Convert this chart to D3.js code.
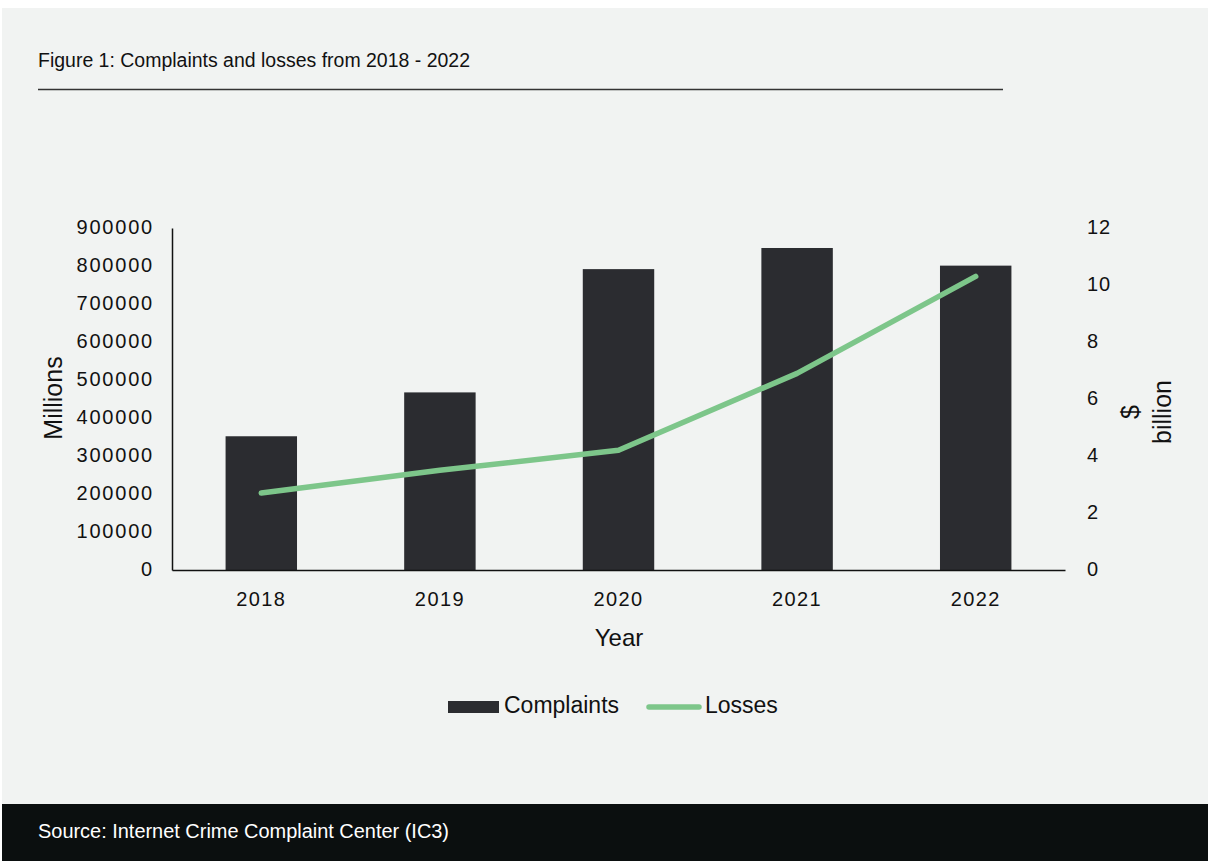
<!DOCTYPE html>
<html><head><meta charset="utf-8">
<script src="https://cdn.jsdelivr.net/npm/d3@7"></script>
<style>
html,body{margin:0;padding:0;background:#fff;}
svg{display:block;}
</style></head>
<body>
<svg id="c" width="1208" height="861"></svg>
<script>
const years = ["2018","2019","2020","2021","2022"];
const complaints = [351937, 467361, 791790, 847376, 800944];
const losses = [2.7, 3.5, 4.2, 6.9, 10.3];
const leftTicks = [0,100000,200000,300000,400000,500000,600000,700000,800000,900000];
const rightTicks = [0,2,4,6,8,10,12];
const title = "Figure 1: Complaints and losses from 2018 - 2022";
const source = "Source: Internet Crime Complaint Center (IC3)";

const svg = d3.select("#c");
const font = "'Liberation Sans', Arial, sans-serif";

// background panel
svg.append("rect").attr("x",2).attr("y",8).attr("width",1206).attr("height",853).attr("fill","#f1f3f2");
// footer
svg.append("rect").attr("x",2).attr("y",804).attr("width",1206).attr("height",57).attr("fill","#0b0f0f");
svg.append("text").attr("x",38).attr("y",838).attr("fill","#ffffff")
  .attr("font-family",font).attr("font-size",20)
  .attr("textLength",411).attr("lengthAdjust","spacingAndGlyphs").text(source);

// title and rule
svg.append("text").attr("x",38).attr("y",67).attr("fill","#111")
  .attr("font-family",font).attr("font-size",20)
  .attr("textLength",432).attr("lengthAdjust","spacingAndGlyphs").text(title);
svg.append("line").attr("x1",38).attr("x2",1003).attr("y1",89.5).attr("y2",89.5)
  .attr("stroke","#333").attr("stroke-width",1.5);

const x0 = 172, x1 = 1065, yTop = 228, yBot = 570;
const x = d3.scaleBand().domain(years).range([x0,x1]).paddingInner(0.6).paddingOuter(0.3);
const yL = d3.scaleLinear().domain([0,900000]).range([yBot,yTop]);
const yR = d3.scaleLinear().domain([0,12]).range([yBot,yTop]);

// bars
svg.append("g").selectAll("rect").data(years).join("rect")
  .attr("x",d=>x(d)).attr("width",x.bandwidth())
  .attr("y",(d,i)=>yL(complaints[i])).attr("height",(d,i)=>yBot-yL(complaints[i]))
  .attr("fill","#2b2c30");

// left axis
const gL = svg.append("g").attr("transform",`translate(${x0},0)`)
  .call(d3.axisLeft(yL).tickValues(leftTicks).tickSize(0).tickPadding(18).tickFormat(d=>String(d)));
gL.select(".domain").attr("stroke","#111").attr("stroke-width",1.5);
gL.selectAll("text").attr("font-family",font).attr("font-size",20).attr("letter-spacing",1.8).attr("fill","#111").attr("dy","0.25em");

// right axis
const gR = svg.append("g").attr("transform",`translate(${x1},0)`)
  .call(d3.axisRight(yR).tickValues(rightTicks).tickSize(0).tickPadding(22));
gR.select(".domain").remove();
gR.selectAll("text").attr("font-family",font).attr("font-size",20).attr("letter-spacing",0.8).attr("fill","#111").attr("dy","0.25em");

// bottom axis
const gB = svg.append("g").attr("transform",`translate(0,${yBot})`)
  .call(d3.axisBottom(x).tickSize(0).tickPadding(22));
gB.select(".domain").attr("stroke","#111").attr("stroke-width",1.5);
gB.selectAll("text").attr("font-family",font).attr("font-size",20).attr("letter-spacing",1.4).attr("fill","#111");

// line
const line = d3.line().x((d,i)=>x(years[i])+x.bandwidth()/2).y(d=>yR(d)).curve(d3.curveLinear);
svg.append("path").datum(losses).attr("d",line).attr("fill","none")
  .attr("stroke","#7dc68a").attr("stroke-width",5.5).attr("stroke-linecap","round").attr("stroke-linejoin","round");

// axis titles
svg.append("text").attr("transform","translate(62,398) rotate(-90)").attr("text-anchor","middle")
  .attr("font-family",font).attr("font-size",25).attr("fill","#111").text("Millions");
svg.append("text").attr("transform","translate(1139,412) rotate(-90)").attr("text-anchor","middle")
  .attr("font-family",font).attr("font-size",25).attr("fill","#111").text("$");
svg.append("text").attr("transform","translate(1171,412) rotate(-90)").attr("text-anchor","middle")
  .attr("font-family",font).attr("font-size",25).attr("fill","#111").text("billion");
svg.append("text").attr("x",619).attr("y",646).attr("text-anchor","middle")
  .attr("font-family",font).attr("font-size",24).attr("fill","#111").text("Year");

// legend
const lg = svg.append("g");
lg.append("rect").attr("x",448).attr("y",701).attr("width",51).attr("height",12).attr("fill","#2b2c30");
lg.append("text").attr("x",504).attr("y",713).attr("font-family",font).attr("font-size",23).attr("fill","#111").text("Complaints");
lg.append("line").attr("x1",649).attr("x2",699).attr("y1",707).attr("y2",707)
  .attr("stroke","#7dc68a").attr("stroke-width",5.5).attr("stroke-linecap","round");
lg.append("text").attr("x",705).attr("y",713).attr("font-family",font).attr("font-size",23).attr("fill","#111").text("Losses");
</script>
</body></html>
